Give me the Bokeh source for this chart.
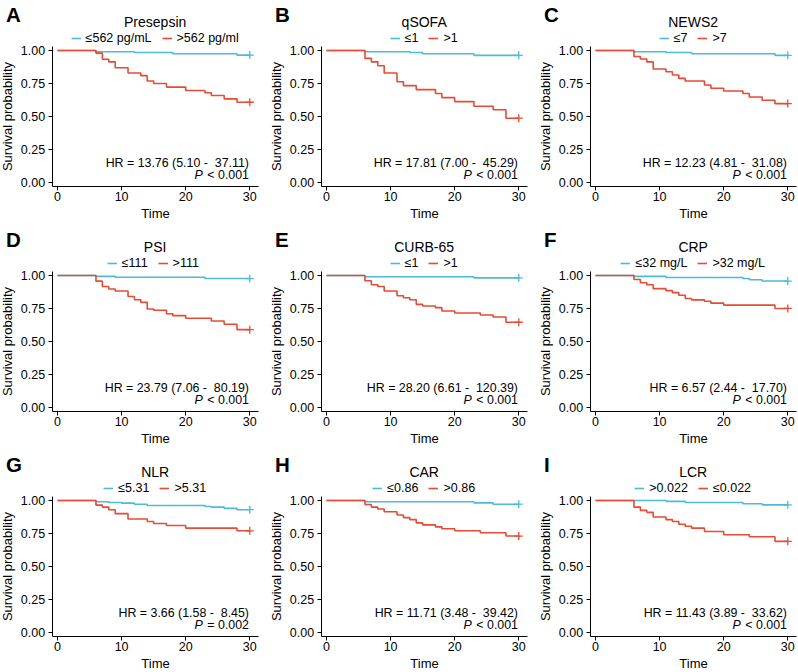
from bokeh.plotting import figure
from bokeh.layouts import gridplot
from bokeh.models import Label, Legend, LegendItem, FixedTicker, PrintfTickFormatter
from bokeh.embed import file_html
from bokeh.resources import INLINE

# ---------------- data ----------------
panel_letters = ["A", "B", "C", "D", "E", "F", "G", "H", "I"]
titles = ["Presepsin", "qSOFA", "NEWS2", "PSI", "CURB-65", "CRP", "NLR", "CAR", "LCR"]
low_labels = ["≤562 pg/mL", "≤1", "≤7", "≤111", "≤1", "≤32 mg/L", "≤5.31", "≤0.86", ">0.022"]
high_labels = [">562 pg/ml", ">1", ">7", ">111", ">1", ">32 mg/L", ">5.31", ">0.86", "≤0.022"]
hr_texts = [
    "HR = 13.76 (5.10 -\u00a0 37.11)",
    "HR = 17.81 (7.00 -\u00a0 45.29)",
    "HR = 12.23 (4.81 -\u00a0 31.08)",
    "HR = 23.79 (7.06 -\u00a0 80.19)",
    "HR = 28.20 (6.61 -\u00a0 120.39)",
    "HR = 6.57 (2.44 -\u00a0 17.70)",
    "HR = 3.66 (1.58 -\u00a0 8.45)",
    "HR = 11.71 (3.48 -\u00a0 39.42)",
    "HR = 11.43 (3.89 -\u00a0 33.62)",
]
p_texts = ["< 0.001", "< 0.001", "< 0.001", "< 0.001", "< 0.001", "< 0.001", "= 0.002", "< 0.001", "< 0.001"]

# low-risk (blue) curves: event times and survival
low_times = [
    [0, 6, 12, 18, 28, 30],
    [0, 6, 13, 15, 23, 30],
    [0, 6, 11, 15, 28, 30],
    [0, 6, 9, 23, 30],
    [0, 6, 23, 30],
    [0, 6, 11, 23, 24, 26, 30],
    [0, 6, 8, 10, 12, 14, 23, 24, 26, 28, 30],
    [0, 6, 23, 26, 30],
    [0, 11, 14, 23, 26, 30],
]
low_surv = [
    [1, 0.99, 0.985, 0.975, 0.965, 0.965],
    [1, 0.99, 0.985, 0.975, 0.963, 0.963],
    [1, 0.99, 0.985, 0.975, 0.963, 0.963],
    [1, 0.993, 0.987, 0.977, 0.977],
    [1, 0.99, 0.982, 0.982],
    [1, 0.993, 0.985, 0.977, 0.968, 0.958, 0.958],
    [1, 0.99, 0.985, 0.98, 0.972, 0.962, 0.955, 0.95, 0.94, 0.93, 0.93],
    [1, 0.99, 0.982, 0.972, 0.972],
    [1, 0.993, 0.985, 0.975, 0.967, 0.967],
]
# high-risk (red) curves
high_times = [
    [0, 6, 7, 8, 9, 11, 13, 14, 15, 17, 20, 23, 24, 26, 28, 30],
    [0, 6, 7, 8, 9, 11, 12, 14, 17, 18, 20, 23, 26, 28, 30],
    [0, 6, 7, 8, 9, 11, 12, 13, 14, 17, 18, 20, 23, 24, 26, 28, 30],
    [0, 6, 7, 8, 9, 11, 12, 13, 14, 15, 17, 18, 20, 24, 26, 28, 30],
    [0, 6, 7, 8, 9, 11, 12, 13, 14, 15, 17, 18, 20, 24, 26, 28, 30],
    [0, 6, 7, 8, 9, 11, 12, 13, 14, 15, 17, 18, 20, 28, 30],
    [0, 6, 7, 8, 9, 11, 14, 15, 17, 20, 28, 30],
    [0, 6, 7, 8, 9, 11, 12, 13, 14, 15, 17, 18, 20, 24, 28, 30],
    [0, 6, 7, 8, 9, 11, 12, 13, 14, 15, 17, 20, 24, 28, 30],
]
high_surv = [
    [1, 0.98, 0.934, 0.914, 0.869, 0.829, 0.809, 0.768, 0.75, 0.722, 0.696, 0.679, 0.658, 0.633, 0.607, 0.607],
    [1, 0.94, 0.914, 0.884, 0.829, 0.763, 0.733, 0.703, 0.673, 0.642, 0.612, 0.577, 0.55, 0.486, 0.486],
    [1, 0.955, 0.935, 0.914, 0.859, 0.839, 0.814, 0.788, 0.768, 0.738, 0.713, 0.693, 0.673, 0.647, 0.622, 0.597, 0.597],
    [1, 0.957, 0.917, 0.897, 0.882, 0.841, 0.816, 0.796, 0.746, 0.736, 0.71, 0.695, 0.675, 0.655, 0.63, 0.589, 0.589],
    [1, 0.96, 0.93, 0.917, 0.882, 0.846, 0.831, 0.816, 0.781, 0.768, 0.756, 0.73, 0.715, 0.7, 0.685, 0.645, 0.645],
    [1, 0.97, 0.945, 0.93, 0.9, 0.885, 0.87, 0.85, 0.825, 0.815, 0.805, 0.79, 0.775, 0.75, 0.75],
    [1, 0.965, 0.95, 0.93, 0.9, 0.86, 0.84, 0.825, 0.81, 0.79, 0.77, 0.77],
    [1, 0.97, 0.95, 0.935, 0.915, 0.89, 0.87, 0.855, 0.83, 0.815, 0.8, 0.785, 0.77, 0.755, 0.73, 0.73],
    [1, 0.95, 0.925, 0.91, 0.875, 0.855, 0.84, 0.82, 0.805, 0.79, 0.765, 0.74, 0.725, 0.69, 0.69],
]

x_ticks = [0, 10, 20, 30]
y_ticks = [0, 0.25, 0.5, 0.75, 1.0]

# ---------------- layout / style ----------------
BLUE = "#4DBBD5"
RED = "#E64B35"
FONT = "Liberation Sans"
COL_W = [269, 269, 260]
ROW_H = [225, 225, 222]

# pixel geometry inside one panel (panel-local pixels, y down from panel top)
ORIGIN_X, PX_X = 57.0, 6.41      # x=0 at 57 px, 6.41 px per day
ORIGIN_Y, PX_Y = 181.7, 131.7    # y=0 at 181.7 px, 131.7 px per unit
X_AX = (-0.83, 31.3)             # extent of the x axis line
Y_AX = (-0.03, 1.03)             # extent of the y axis line

CHAR_W = {"≤": 0.549, ">": 0.584, "<": 0.584, "=": 0.584, " ": 0.278, ".": 0.278,
          "/": 0.278, "p": 0.556, "g": 0.556, "m": 0.833, "L": 0.556, "l": 0.222}
LEG_FS = 12.5
GLYPH_W, STANDOFF, SPACING, LEG_H = 10, 5, 10, 14


def text_w(s, fs):
    return sum(CHAR_W.get(c, 0.556) for c in s) * fs


def px2x(px):
    return (px - ORIGIN_X) / PX_X


def px2y(py):
    return (ORIGIN_Y - py) / PX_Y


def make_panel(i):
    w, h = COL_W[i % 3], ROW_H[i // 3]
    p = figure(frame_width=w, frame_height=h,
               x_range=(px2x(0), px2x(w)), y_range=(px2y(h), px2y(0)),
               output_backend="svg", toolbar_location=None, title_location=None,
               min_border=0, min_border_left=0, min_border_right=0,
               min_border_top=0, min_border_bottom=0)
    p.outline_line_color = None
    p.xgrid.visible = False
    p.ygrid.visible = False

    p.xaxis.fixed_location = Y_AX[0]
    p.yaxis.fixed_location = X_AX[0]
    p.xaxis.bounds = X_AX
    p.yaxis.bounds = Y_AX
    p.xaxis.ticker = FixedTicker(ticks=x_ticks)
    p.yaxis.ticker = FixedTicker(ticks=y_ticks)
    p.yaxis.formatter = PrintfTickFormatter(format="%.2f")
    p.xaxis.axis_label = "Time"
    p.yaxis.axis_label = "Survival probability"
    for ax in (p.xaxis, p.yaxis):
        ax.axis_line_color = "black"
        ax.axis_line_width = 1
        ax.major_tick_line_color = "black"
        ax.major_tick_in = 0
        ax.major_tick_out = 4
        ax.minor_tick_line_color = None
        ax.major_label_text_font = FONT
        ax.major_label_text_font_size = "12.5px"
        ax.major_label_text_color = "black"
        ax.axis_label_text_font = FONT
        ax.axis_label_text_font_size = "13px"
        ax.axis_label_text_font_style = "normal"
        ax.axis_label_text_color = "black"
    p.xaxis.major_label_standoff = 2
    p.xaxis.axis_label_standoff = 1
    p.yaxis.major_label_standoff = 3
    p.yaxis.axis_label_standoff = 3

    r_low = p.step(low_times[i], low_surv[i], mode="after", line_color=BLUE, line_width=1.6)
    r_high = p.step(high_times[i], high_surv[i], mode="after", line_color=RED, line_width=1.6)
    p.scatter([low_times[i][-1]], [low_surv[i][-1]], marker="cross", size=8,
              line_color=BLUE, line_width=1.3)
    p.scatter([high_times[i][-1]], [high_surv[i][-1]], marker="cross", size=8,
              line_color=RED, line_width=1.3)

    # legend centred over the plotting area, just above it
    center_px = ORIGIN_X + PX_X * (X_AX[0] + X_AX[1]) / 2
    labels = [low_labels[i], high_labels[i]]
    leg_w = sum(GLYPH_W + STANDOFF + text_w(s, LEG_FS) for s in labels) + SPACING
    legend = Legend(items=[LegendItem(label=labels[0], renderers=[r_low]),
                           LegendItem(label=labels[1], renderers=[r_high])],
                    orientation="horizontal",
                    location=(center_px - leg_w / 2, h - (37.5 + LEG_H / 2)),
                    glyph_width=GLYPH_W, glyph_height=LEG_H, label_height=LEG_H,
                    label_width=1, label_standoff=STANDOFF, spacing=SPACING,
                    padding=0, margin=0,
                    border_line_color=None, background_fill_alpha=0,
                    label_text_font=FONT, label_text_font_size=f"{LEG_FS}px",
                    label_text_color="black")
    p.add_layout(legend)

    p.add_layout(Label(x=(X_AX[0] + X_AX[1]) / 2, y=px2y(21),
                       text=titles[i], text_align="center", text_baseline="middle",
                       text_font=FONT, text_font_size="14px", text_color="black"))
    p.add_layout(Label(x=px2x(5.5), y=px2y(13.5),
                       text=panel_letters[i], text_align="left", text_baseline="middle",
                       text_font=FONT, text_font_size="20.5px", text_font_style="bold",
                       text_color="black"))

    right = px2x(248.5)
    p.add_layout(Label(x=right, y=px2y(162.7), text=hr_texts[i], text_align="right",
                       text_baseline="middle", text_font=FONT, text_font_size="12.4px",
                       text_color="black"))
    p.add_layout(Label(x=right, y=px2y(174), text=p_texts[i], text_align="right",
                       text_baseline="middle", text_font=FONT, text_font_size="12.4px",
                       text_color="black"))
    p.add_layout(Label(x=right, y=px2y(174), x_offset=-(text_w(p_texts[i], 12.4) + 4.5),
                       text="P", text_align="right",
                       text_baseline="middle", text_font=FONT, text_font_size="12.4px",
                       text_font_style="italic", text_color="black"))
    return p


figs = [make_panel(i) for i in range(9)]
grid = gridplot([figs[0:3], figs[3:6], figs[6:9]], toolbar_location=None)

open("out.html", "w").write(file_html(grid, INLINE))
